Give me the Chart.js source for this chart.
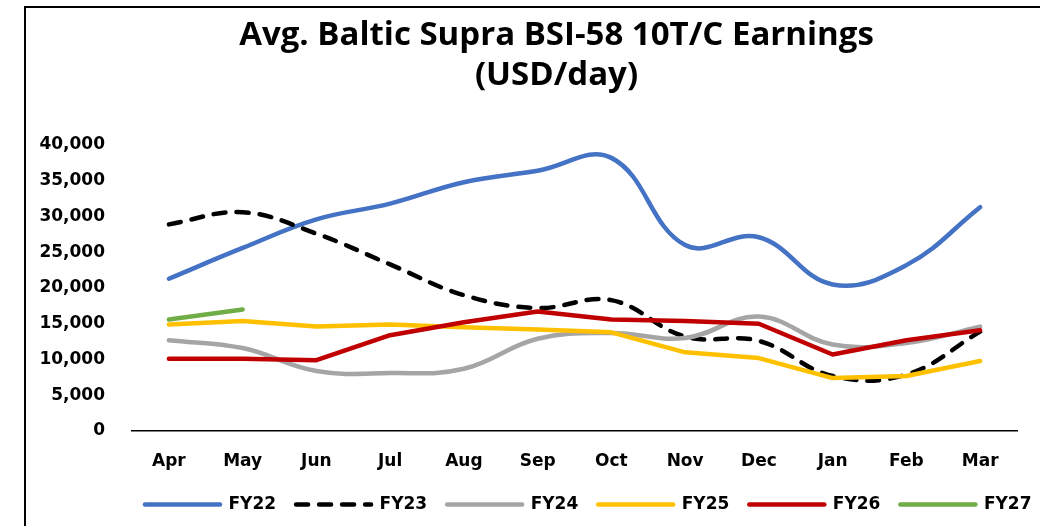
<!DOCTYPE html>
<html>
<head>
<meta charset="utf-8">
<script src="https://cdn.jsdelivr.net/npm/chart.js@4/dist/chart.umd.min.js"></script>
<style>
  html, body { margin: 0; padding: 0; background: #fff; }
  #wrap { position: relative; width: 1040px; height: 526px; overflow: hidden; }
  #frame { position: absolute; left: 24px; top: 6px; width: 1100px; height: 600px;
           border-left: 2px solid #000; border-top: 2px solid #000; pointer-events: none; }
</style>
</head>
<body>
<div id="wrap">
  <canvas id="c" width="1040" height="526"></canvas>
  <div id="frame"></div>
</div>
<script>
const months = ['Apr','May','Jun','Jul','Aug','Sep','Oct','Nov','Dec','Jan','Feb','Mar'];
const fy22 = [21300, 25600, 29600, 31800, 34800, 36400, 38200, 26000, 27100, 20500, 23200, 31300];
const fy23 = [28900, 30600, 27600, 23300, 19000, 17200, 18300, 13200, 12600, 7700, 7900, 13900];
const fy24 = [12700, 11600, 8400, 8100, 8700, 12900, 13700, 13000, 16000, 12100, 12300, 14600];
const fy25 = [14900, 15400, 14600, 14900, 14500, 14200, 13800, 11000, 10200, 7400, 7700, 9800];
const fy26 = [10100, 10100, 9900, 13400, 15200, 16700, 15600, 15400, 15000, 10700, 12700, 14100];
const fy27 = [15600, 17000];
const yTicks = [0, 5000, 10000, 15000, 20000, 25000, 30000, 35000, 40000];

function ds(label, data, color, tension, order, dash) {
  return {
    label, data, borderColor: color, backgroundColor: color,
    borderWidth: 4.5, pointRadius: 0, pointHoverRadius: 0,
    tension, order, fill: false,
    borderCapStyle: 'round', borderJoinStyle: 'round',
    borderDash: dash || []
  };
}

const boxShift = {
  id: 'boxShift',
  afterLayout(chart) {
    const lg = chart.legend;
    const pad = lg.options.labels.padding;
    const w = lg.right - lg.left;
    lg.left = 145 - pad;
    lg.right = lg.left + w;
    lg.top -= 3;
    lg.bottom -= 3;
    const t = chart.titleBlock;
    if (t) { t.left += 48; t.right += 48; }
  }
};

new Chart(document.getElementById('c'), {
  type: 'line',
  data: {
    labels: months,
    datasets: [
      ds('FY22', fy22, '#4472C4', 0.4, 6),
      ds('FY23', fy23, '#000000', 0.4, 5, [12, 11]),
      ds('FY24', fy24, '#A5A5A5', 0.4, 4),
      ds('FY25', fy25, '#FFC000', 0, 3),
      ds('FY26', fy26, '#C00000', 0, 2),
      ds('FY27', fy27, '#70AD47', 0, 1)
    ]
  },
  options: {
    responsive: false,
    animation: false,
    devicePixelRatio: 1,
    layout: { padding: { left: 0, right: 23, top: 0, bottom: 0 } },
    plugins: {
      title: {
        display: true,
        text: ['Avg. Baltic Supra BSI-58 10T/C Earnings', '(USD/day)'],
        color: '#000',
        font: { family: 'Open Sans', size: 33, weight: 'bold', lineHeight: 40 / 33 },
        padding: { top: 16, bottom: 49 }
      },
      legend: {
        position: 'bottom',
        align: 'start',
        labels: {
          usePointStyle: true,
          pointStyle: 'line',
          pointStyleWidth: 75,
          padding: 20,
          color: '#000',
          font: { family: 'DejaVu Sans', size: 17, weight: 'bold' },
          generateLabels: (chart) => Chart.defaults.plugins.legend.labels.generateLabels(chart).map(l => {
            const d = chart.data.datasets[l.datasetIndex];
            l.lineDash = d.borderDash;
            l.lineCap = 'round';
            l.lineWidth = d.borderWidth;
            l.strokeStyle = d.borderColor;
            return l;
          }),
          sort: (a, b) => a.datasetIndex - b.datasetIndex
        }
      },
      tooltip: { enabled: false }
    },
    scales: {
      x: {
        offset: true,
        grid: { display: false, drawTicks: false },
        border: { display: true, color: '#000', width: 1.5 },
        ticks: { color: '#000', padding: 20, maxRotation: 0,
                 font: { family: 'DejaVu Sans', size: 17, weight: 'bold' } },
        afterFit: (s) => { s.height = 48; }
      },
      y: {
        min: 0, max: 40000,
        grid: { display: false, drawTicks: false },
        border: { display: false },
        afterBuildTicks: (s) => { s.ticks = yTicks.map(v => ({ value: v })); },
        ticks: { color: '#000', padding: 27,
                 font: { family: 'DejaVu Sans', size: 17, weight: 'bold' },
                 callback: (v) => Number(v).toLocaleString('en-US') },
        afterFit: (s) => { s.width = 132; }
      }
    }
  },
  plugins: [boxShift]
});
</script>
</body>
</html>
